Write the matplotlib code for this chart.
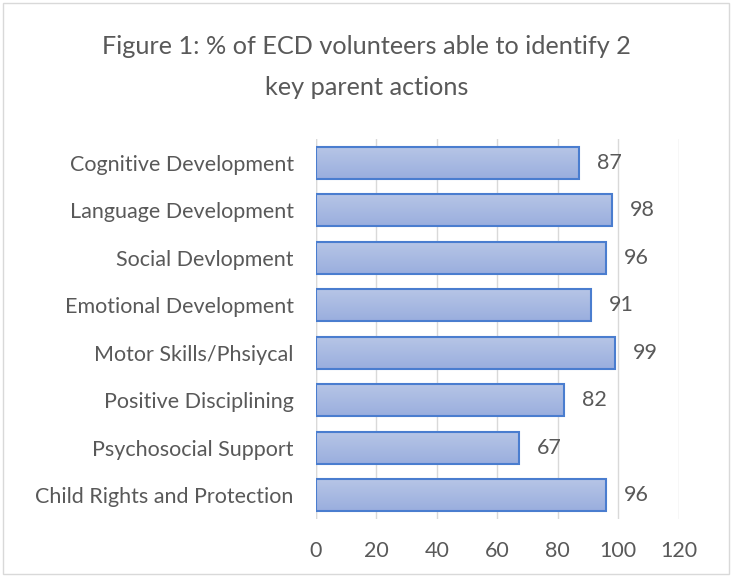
import numpy as np
import matplotlib.pyplot as plt
from matplotlib.patches import Rectangle
from matplotlib.colors import LinearSegmentedColormap

plt.rcParams['font.family'] = ['Lato', 'DejaVu Sans']

categories = [
    "Cognitive Development",
    "Language Development",
    "Social Devlopment",
    "Emotional Development",
    "Motor Skills/Phsiycal",
    "Positive Disciplining",
    "Psychosocial Support",
    "Child Rights and Protection",
]
values = [87, 98, 96, 91, 99, 82, 67, 96]
xticks = [0, 20, 40, 60, 80, 100, 120]

text_color = "#595959"
edge_color = "#4a7dcf"
grad = LinearSegmentedColormap.from_list("bar", ["#9aaede", "#b6c5e6"])

fig = plt.figure(figsize=(7.33, 5.77), dpi=100)
fig.patches.append(Rectangle((0.004, 0.005), 0.99, 0.99, transform=fig.transFigure,
                             fill=False, edgecolor="#d9d9d9", linewidth=1))
ax = fig.add_axes([0.431, 0.1005, 0.495, 0.6585])

bar_h = 0.67
y = np.arange(len(categories))
bars = ax.barh(y, values, height=bar_h, color="none", edgecolor=edge_color,
               linewidth=1.5, zorder=3)
# vertical gradient inside each bar: light on top, darker below
g = np.linspace(1, 0, 64).reshape(-1, 1)
for b in bars:
    x0, y0 = b.get_x(), b.get_y()
    im = ax.imshow(g, cmap=grad, aspect="auto", origin="upper",
                   extent=[x0, x0 + b.get_width(), y0 + b.get_height(), y0],
                   zorder=2, vmin=0, vmax=1)
    im.set_clip_path(b)

for yi, v in zip(y, values):
    ax.annotate(str(v), (v, yi), xytext=(13, 0), textcoords="offset points",
                va="center", ha="left", fontsize=15.5, color=text_color)

ax.set_xlim(0, 120)
ax.set_ylim(len(categories) - 0.5, -0.5)
ax.set_xticks(xticks)
ax.set_yticks(y)
ax.set_yticklabels(categories)
ax.tick_params(axis="both", length=0, labelsize=15.5, labelcolor=text_color)
ax.tick_params(axis="x", pad=16)
ax.tick_params(axis="y", pad=16)
ax.grid(axis="x", color="#d9d9d9", linewidth=1, zorder=0)
ax.set_axisbelow(True)
for s in ax.spines.values():
    s.set_visible(False)
ax.axvline(0, color="#d9d9d9", linewidth=1, zorder=1)

fig.text(0.5, 0.884, "Figure 1: % of ECD volunteers able to identify 2\nkey parent actions",
         ha="center", va="center", fontsize=18.2, color=text_color, linespacing=1.98)

fig.savefig("out.png", dpi=100)
